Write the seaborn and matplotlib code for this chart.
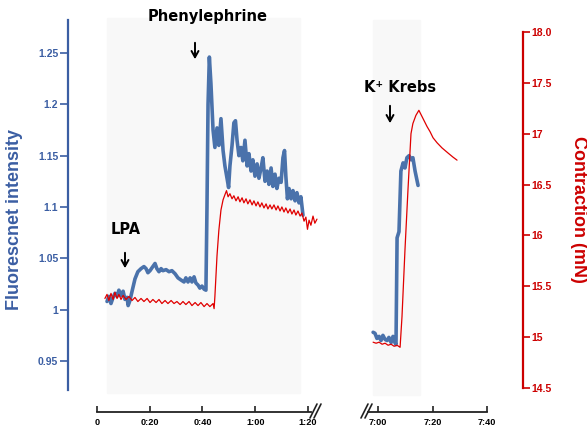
import matplotlib
matplotlib.use("Agg")
import matplotlib.pyplot as plt
import seaborn as sns
from matplotlib.lines import Line2D
from matplotlib.patches import Rectangle, FancyArrowPatch

# --- data (time in minutes) ---
# first segment, 0 to 1:20
t_fluo1 = [3.8, 4.5, 5.3, 6.1, 6.8, 7.6, 8.3, 9.1, 9.9, 10.6, 11.4, 11.8, 12.5, 13.3,
           14.4, 15.5, 16.7, 17.8, 18.6, 19.3, 20.1, 20.9, 22.0, 22.7, 23.5, 24.3, 25.0,
           26.2, 27.3, 28.4, 29.6, 30.7, 31.8, 33.0, 33.7, 34.5, 35.3, 36.0, 36.8, 37.5,
           38.3, 39.0, 39.8, 40.6, 41.3, 41.7, 42.1, 42.6, 43.2, 44.0, 44.7, 45.5, 46.2,
           47.0, 47.8, 48.5, 49.3, 49.9, 50.4, 51.2, 51.9, 52.5, 53.1, 53.8, 54.6, 55.3,
           56.1, 56.9, 57.6, 58.4, 59.1, 59.9, 60.7, 61.4, 62.2, 62.9, 63.7, 64.5, 65.2,
           66.0, 66.7, 67.5, 68.2, 69.0, 69.8, 70.5, 71.1, 71.6, 72.2, 72.8, 73.6, 74.3,
           75.1, 75.8, 76.6, 77.3, 78.1]
fluo1 = [1.008, 1.013, 1.006, 1.012, 1.016, 1.013, 1.019, 1.014, 1.018, 1.010, 1.012,
         1.004, 1.009, 1.018, 1.030, 1.037, 1.040, 1.042, 1.040, 1.036, 1.038, 1.041,
         1.045, 1.040, 1.037, 1.040, 1.038, 1.039, 1.037, 1.038, 1.035, 1.031, 1.029,
         1.027, 1.031, 1.027, 1.031, 1.027, 1.032, 1.026, 1.024, 1.021, 1.023, 1.020,
         1.019, 1.100, 1.200, 1.246, 1.220, 1.175, 1.158, 1.177, 1.160, 1.186, 1.155,
         1.140, 1.128, 1.119, 1.140, 1.160, 1.182, 1.184, 1.165, 1.150, 1.158, 1.145,
         1.165, 1.140, 1.152, 1.135, 1.146, 1.130, 1.142, 1.128, 1.138, 1.148, 1.125,
         1.135, 1.122, 1.138, 1.120, 1.132, 1.118, 1.128, 1.124, 1.148, 1.155, 1.130,
         1.108, 1.118, 1.108, 1.116, 1.106, 1.114, 1.104, 1.110, 1.092]

t_force1 = [3.0, 3.8, 4.5, 5.3, 6.1, 6.8, 7.6, 8.3, 9.1, 9.9, 11.0, 12.1, 13.3, 14.4,
            15.5, 16.7, 17.8, 19.0, 20.1, 21.2, 22.4, 23.5, 24.6, 25.8, 26.9, 28.1,
            29.2, 30.3, 31.5, 32.6, 33.7, 34.9, 36.0, 37.2, 38.3, 39.4, 40.6, 41.7,
            42.8, 44.0, 44.4, 44.7, 45.5, 46.2, 47.0, 47.8, 48.5, 49.1, 49.7, 50.4,
            51.2, 51.9, 52.7, 53.5, 54.2, 55.0, 55.7, 56.5, 57.2, 58.0, 58.8, 59.5,
            60.3, 61.0, 61.8, 62.5, 63.3, 64.1, 64.8, 65.6, 66.3, 67.1, 67.9, 68.6,
            69.4, 70.1, 70.9, 71.6, 72.4, 73.2, 73.9, 74.7, 75.4, 76.2, 77.0, 77.7,
            78.5, 79.2, 79.8, 80.4, 81.1, 81.9, 82.6, 83.4]
force1 = [15.38, 15.42, 15.36, 15.43, 15.37, 15.44, 15.38, 15.42, 15.37, 15.41, 15.37,
          15.40, 15.36, 15.39, 15.35, 15.38, 15.35, 15.38, 15.34, 15.37, 15.34, 15.37,
          15.33, 15.36, 15.33, 15.36, 15.33, 15.35, 15.32, 15.35, 15.32, 15.35, 15.31,
          15.34, 15.31, 15.34, 15.30, 15.33, 15.30, 15.33, 15.28, 15.40, 15.80, 16.05,
          16.25, 16.35, 16.40, 16.44, 16.38, 16.41, 16.36, 16.39, 16.34, 16.38, 16.33,
          16.37, 16.32, 16.36, 16.31, 16.35, 16.30, 16.34, 16.29, 16.33, 16.28, 16.32,
          16.27, 16.31, 16.26, 16.30, 16.26, 16.30, 16.25, 16.29, 16.24, 16.28, 16.23,
          16.27, 16.22, 16.26, 16.21, 16.25, 16.20, 16.24, 16.19, 16.22, 16.14, 16.18,
          16.06, 16.15, 16.10, 16.19, 16.12, 16.16]

# second segment, 7:00 to 7:40 (K+ Krebs)
t_fluo2 = [418.2, 418.9, 419.6, 420.4, 421.1, 421.8, 422.6, 423.3, 424.0, 424.8, 425.5,
           426.2, 426.6, 427.0, 427.7, 428.4, 429.2, 429.9, 430.6, 431.4, 432.1, 432.8,
           433.6, 434.7]
fluo2 = [0.978, 0.977, 0.972, 0.974, 0.970, 0.975, 0.971, 0.970, 0.973, 0.968, 0.974,
         0.968, 0.966, 1.070, 1.076, 1.135, 1.143, 1.138, 1.148, 1.150, 1.146, 1.148,
         1.135, 1.121]

t_force2 = [418.2, 419.3, 420.4, 421.5, 422.6, 423.7, 424.8, 425.9, 427.0, 428.1, 428.8,
            429.9, 431.0, 432.1, 432.8, 433.9, 435.0, 436.5, 438.0, 439.1, 440.2, 441.7,
            443.5, 445.7, 447.5, 449.0]
force2 = [14.95, 14.94, 14.95, 14.93, 14.94, 14.92, 14.93, 14.91, 14.92, 14.90, 15.20,
          15.86, 16.45, 17.00, 17.10, 17.18, 17.23, 17.15, 17.07, 17.02, 16.96, 16.91,
          16.86, 16.81, 16.77, 16.74]

fluo_ticks = [0.95, 1.0, 1.05, 1.1, 1.15, 1.2, 1.25]
fluo_labels = ["0.95", "1", "1.05", "1.1", "1.15", "1.2", "1.25"]
force_ticks = [14.5, 15, 15.5, 16, 16.5, 17, 17.5, 18]
force_labels = ["14.5", "15", "15.5", "16", "16.5", "17", "17.5", "18.0"]
time_ticks1 = [0, 20, 40, 60, 80]
time_labels1 = ["0", "0:20", "0:40", "1:00", "1:20"]
time_ticks2 = [420, 440, 460]
time_labels2 = ["7:00", "7:20", "7:40"]

BLUE = "#4a72ab"
BLUE_AX = "#3b5ea3"
RED = "#e00000"
RED_AX = "#cc0000"

sns.set_style("white")
plt.rcParams["font.family"] = ["Liberation Sans", "DejaVu Sans"]

W, H = 587, 430
fig = plt.figure(figsize=(5.87, 4.30), dpi=100)


def box(x0, y0, x1, y1):
    return [x0 / W, 1 - y1 / H, (x1 - x0) / W, (y1 - y0) / H]


def pt(x, y):
    return (x / W, 1 - y / H)


# faint grey panels behind the traces
for x0, y0, x1, y1 in [(107, 18, 300, 393), (373, 20, 420, 395)]:
    fig.add_artist(Rectangle(pt(x0, y1), (x1 - x0) / W, (y1 - y0) / H,
                             transform=fig.transFigure, color="#f8f8f8", zorder=-1))

axL = fig.add_axes(box(68, 20, 320, 390))
axR = fig.add_axes(box(360, 20, 523, 390))
axL.set_xlim(-10.995, 84.55)
axR.set_xlim(413.39, 473.21)
axL2 = axL.twinx()
axR2 = axR.twinx()

for ax in (axL, axR):
    ax.set_ylim(0.9218, 1.2821)
    ax.set_facecolor("none")
for ax in (axL2, axR2):
    ax.set_ylim(14.480, 18.118)
    ax.set_facecolor("none")

sns.lineplot(x=t_fluo1, y=fluo1, ax=axL, color=BLUE, lw=2.6)
sns.lineplot(x=t_fluo2, y=fluo2, ax=axR, color=BLUE, lw=2.6)
sns.lineplot(x=t_force1, y=force1, ax=axL2, color=RED, lw=0.9)
sns.lineplot(x=t_force2, y=force2, ax=axR2, color=RED, lw=0.9)

for ax in (axL, axR, axL2, axR2):
    for s in ax.spines.values():
        s.set_visible(False)
    ax.set_xlabel("")
    ax.set_ylabel("")

# left fluorescence axis
axL.spines["left"].set_visible(True)
axL.spines["left"].set_color(BLUE_AX)
axL.spines["left"].set_linewidth(1.6)
axL.set_yticks(fluo_ticks)
axL.set_yticklabels(fluo_labels, fontweight="bold")
axL.tick_params(axis="y", direction="out", length=5.5, width=1.2, color=BLUE_AX,
                labelcolor=BLUE_AX, labelsize=7.5, pad=1.5, left=True)
axR.set_yticks([])
axL2.set_yticks([])

# right contraction axis
axR2.spines["right"].set_visible(True)
axR2.spines["right"].set_color(RED_AX)
axR2.spines["right"].set_linewidth(1.6)
axR2.spines["right"].set_bounds(14.5, 18.0)
axR2.set_yticks(force_ticks)
axR2.set_yticklabels(force_labels, fontweight="bold")
axR2.tick_params(axis="y", direction="out", length=5, width=1.2, color=RED_AX,
                 labelcolor=RED_AX, labelsize=7.5, pad=1, right=True)

# broken time axis
for ax, ticks, labels, lo, hi in [(axL, time_ticks1, time_labels1, 0, 81.1),
                                  (axR, time_ticks2, time_labels2, 416.3, 460)]:
    sp = ax.spines["bottom"]
    sp.set_visible(True)
    sp.set_position(("outward", 22 * 0.72))
    sp.set_bounds(lo, hi)
    sp.set_color("#222222")
    sp.set_linewidth(1.3)
    ax.set_xticks(ticks)
    ax.set_xticklabels(labels, fontweight="bold")
    ax.tick_params(axis="x", direction="in", length=4.5, width=1.2, color="#222222",
                   labelcolor="black", labelsize=6.6, pad=4, bottom=True,
                   labelbottom=True)

# break marks
for x0 in [310, 314, 361, 365]:
    fig.add_artist(Line2D([x0 / W, (x0 + 7) / W], [1 - 418 / H, 1 - 404 / H],
                          transform=fig.transFigure, color="#222222", lw=1.2))

# axis titles
fig.text(*pt(15, 220), "Fluorescnet intensity", rotation=90, ha="center", va="center",
         color=BLUE_AX, fontsize=13, fontweight="bold")
fig.text(*pt(578, 209), "Contraction (mN)", rotation=270, ha="center", va="center",
         color=RED_AX, fontsize=13, fontweight="bold")

# stimulus annotations
for label, (tx, ty), (ax_, ay0, ay1) in [("Phenylephrine", (208, 17), (195, 40, 62)),
                                         ("LPA", (126, 230), (125, 250, 271)),
                                         ("K\u207a Krebs", (400, 87), (390, 103, 126))]:
    fig.text(*pt(tx, ty), label, ha="center", va="center", fontsize=10.5,
             fontweight="bold", color="black", family="DejaVu Sans")
    fig.add_artist(FancyArrowPatch(
        pt(ax_, ay0), pt(ax_, ay1), transform=fig.transFigure,
        arrowstyle="->,head_length=0.45,head_width=0.25", mutation_scale=10,
        color="black", lw=1.4))

fig.savefig("out.png", dpi=100)
